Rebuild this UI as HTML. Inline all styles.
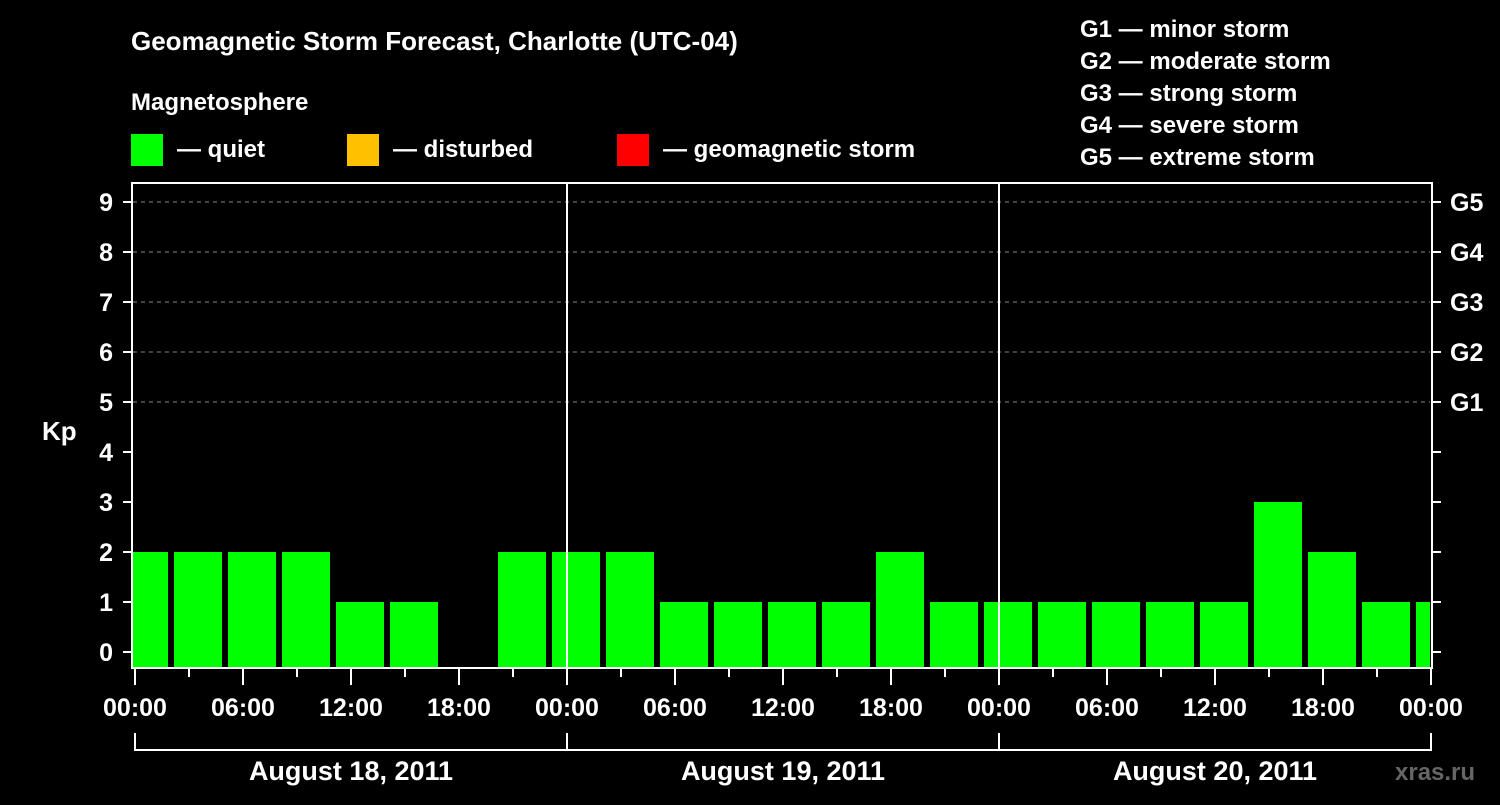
<!DOCTYPE html>
<html><head><meta charset="utf-8"><style>
body{margin:0;background:#000;width:1500px;height:800px;overflow:hidden}
svg text{font-family:"Liberation Sans",sans-serif;font-weight:bold;fill:#fff}
</style></head><body>
<svg id="c" width="1500" height="800">
<defs><clipPath id="pc"><rect x="133" y="183" width="1297" height="485"/></clipPath></defs>
<text x="131" y="50" font-size="26">Geomagnetic Storm Forecast, Charlotte (UTC-04)</text>
<text x="131" y="110" font-size="24">Magnetosphere</text>
<rect x="131" y="134" width="32" height="32" fill="#00ff00"/>
<text x="177" y="157" font-size="24">— quiet</text>
<rect x="347" y="134" width="32" height="32" fill="#ffc000"/>
<text x="393" y="157" font-size="24">— disturbed</text>
<rect x="617" y="134" width="32" height="32" fill="#ff0000"/>
<text x="663" y="157" font-size="24">— geomagnetic storm</text>
<g font-size="24">
<text x="1080" y="37">G1 — minor storm</text>
<text x="1080" y="69">G2 — moderate storm</text>
<text x="1080" y="101">G3 — strong storm</text>
<text x="1080" y="133">G4 — severe storm</text>
<text x="1080" y="165">G5 — extreme storm</text>
</g>
<text x="42" y="440" font-size="26">Kp</text>
<text x="1395" y="780" font-size="24" fill="#666" style="fill:#666">xras.ru</text>
<g id="grid"></g><g id="bars" clip-path="url(#pc)"></g><g id="axes"></g>
</svg>
<script>
const values=[2,2,2,2,1,1,null,2, 2,2,1,1,1,1,2,1, 1,1,1,1,1,3,2,1, 1];
const kpTicks=[0,1,2,3,4,5,6,7,8,9];
const gLabels=["G1","G2","G3","G4","G5"];
const hourLabels=["00:00","06:00","12:00","18:00"];
const dayLabels=["August 18, 2011","August 19, 2011","August 20, 2011"];
const NS="http://www.w3.org/2000/svg";
const x=h=>135+h*18, y=v=>652-v*50, B=668;
function mk(p,t,a){const e=document.createElementNS(NS,t);for(const k in a)e.setAttribute(k,a[k]);p.appendChild(e);return e;}
const grid=document.getElementById('grid'),bars=document.getElementById('bars'),axes=document.getElementById('axes');
for(let k=5;k<=9;k++){const l=mk(grid,'line',{x1:133,x2:1430,y1:y(k),y2:y(k),stroke:'#888','stroke-dasharray':'4,4','stroke-width':1});

}
values.forEach((v,i)=>{if(v===null)return;const c=x(3*i+0.5);
const r=mk(bars,'rect',{x:c-24,y:y(v),width:48,height:B-y(v),fill:'#00ff00'});

});
const fr=mk(axes,'rect',{x:132,y:183,width:1300,height:485,fill:'none',stroke:'#fff','stroke-width':2});


[1,2].forEach(d=>{const l=mk(axes,'line',{x1:x(24*d),x2:x(24*d),y1:183,y2:668,stroke:'#fff','stroke-width':2});

});
kpTicks.forEach(k=>{mk(axes,'line',{x1:123,x2:132,y1:y(k),y2:y(k),stroke:'#fff','stroke-width':2});
mk(axes,'line',{x1:1432,x2:1441,y1:y(k),y2:y(k),stroke:'#fff','stroke-width':2});
const t=mk(axes,'text',{x:113,y:y(k)+9,'font-size':25,'text-anchor':'end'});t.textContent=k;

});
gLabels.forEach((g,i)=>{const t=mk(axes,'text',{x:1450,y:y(5+i)+9,'font-size':25});t.textContent=g;

});
for(let h=0;h<=72;h+=3){const major=h%6===0;mk(axes,'line',{x1:x(h),x2:x(h),y1:669,y2:major?685:677,stroke:'#fff','stroke-width':2});
if(major){const t=mk(axes,'text',{x:x(h),y:716,'font-size':25,'text-anchor':'middle'});t.textContent=hourLabels[(h/6)%4];

}}
mk(axes,'line',{x1:x(0),x2:x(72),y1:750,y2:750,stroke:'#fff','stroke-width':2});
for(let d=0;d<=3;d++)mk(axes,'line',{x1:x(24*d),x2:x(24*d),y1:733,y2:751,stroke:'#fff','stroke-width':2});
dayLabels.forEach((s,d)=>{const t=mk(axes,'text',{x:x(24*d+12),y:780,'font-size':27,'text-anchor':'middle'});t.textContent=s;

});
</script>
</body></html>
